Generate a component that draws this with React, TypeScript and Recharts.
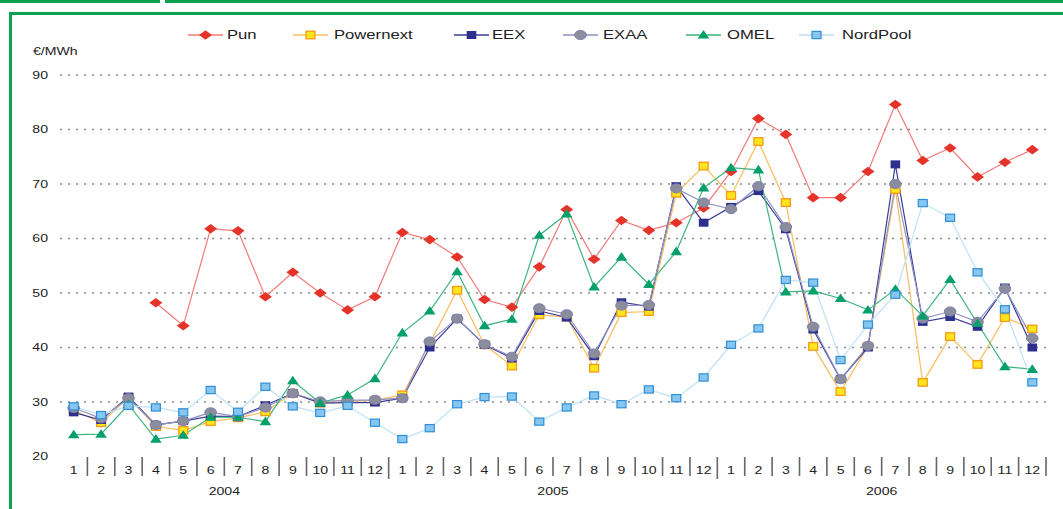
import React from 'react';
import { LineChart, Line, XAxis, YAxis, CartesianGrid } from 'recharts';

// monthly prices, Jan 2004 .. Dec 2006 (€/MWh)
const years = ['2004', '2005', '2006'];
const months = [1, 2, 3, 4, 5, 6, 7, 8, 9, 10, 11, 12];
const yTicks = [20, 30, 40, 50, 60, 70, 80, 90];
const gridValues = [30, 40, 50, 60, 70, 80, 90];

const pun = [
  null, null, null, 48.2, 44.0, 61.8, 61.4, 49.3, 53.8, 50.0, 46.9, 49.3,
  61.1, 59.8, 56.6, 48.8, 47.4, 54.8, 65.3, 56.2, 63.3, 61.5, 62.9, 65.6,
  72.3, 82.0, 79.1, 67.5, 67.5, 72.3, 84.6, 74.3, 76.6, 71.3, 74.0, 76.3,
];
const powernext = [
  28.5, 26.2, 30.8, 25.5, 24.8, 26.4, 27.1, 28.2, 31.6, 29.8, 30.1, 30.3,
  31.3, 40.8, 50.5, 40.5, 36.6, 46.0, 45.6, 36.2, 46.4, 46.6, 68.3, 73.3,
  67.9, 77.8, 66.6, 40.2, 31.9, 40.2, 69.0, 33.6, 42.0, 36.9, 45.5, 43.4,
];
const eex = [
  28.1, 26.7, 31.0, 25.8, 26.5, 27.4, 27.3, 29.4, 31.6, 29.8, 29.9, 29.9,
  30.7, 40.0, 45.3, 40.5, 38.0, 46.7, 45.5, 38.4, 48.3, 47.5, 69.6, 62.9,
  65.8, 68.7, 61.7, 43.3, 34.2, 40.0, 73.6, 44.7, 45.6, 43.8, 51.0, 40.0,
];
const exaa = [
  28.9, 27.0, 30.7, 25.8, 26.5, 28.1, 27.3, 29.0, 31.6, 30.1, 30.3, 30.4,
  30.7, 41.1, 45.3, 40.6, 38.3, 47.2, 46.1, 38.9, 47.7, 47.8, 69.2, 66.6,
  65.4, 69.6, 62.1, 43.8, 34.2, 40.3, 70.0, 45.3, 46.6, 44.7, 50.8, 41.7,
];
const omel = [
  24.0, 24.1, 29.5, 23.2, 23.9, 27.2, 27.2, 26.4, 33.9, 29.8, 31.3, 34.3,
  42.7, 46.7, 53.9, 44.0, 45.2, 60.6, 64.5, 51.1, 56.6, 51.6, 57.6, 69.3,
  73.0, 72.6, 50.2, 50.4, 49.0, 46.9, 50.7, 45.8, 52.5, 44.4, 36.5, 36.0,
];
const nordpool = [
  29.2, 27.6, 29.3, 29.0, 28.1, 32.2, 28.2, 32.8, 29.2, 28.0, 29.3, 26.2,
  23.2, 25.2, 29.6, 30.9, 31.0, 26.4, 29.0, 31.2, 29.6, 32.3, 30.7, 34.5,
  40.5, 43.5, 52.4, 51.9, 37.7, 44.2, 49.7, 66.5, 63.8, 53.8, 47.0, 33.6,
];

const data = pun.map((_, i) => ({
  i,
  Pun: pun[i],
  Powernext: powernext[i],
  EEX: eex[i],
  EXAA: exaa[i],
  OMEL: omel[i],
  NordPool: nordpool[i],
}));

const GREEN = '#0aa14f';
const PLOT_LEFT = 60;
const PLOT_RIGHT = 1046;
const PLOT_TOP = 75;
const PLOT_BOTTOM = 456.5;
const BAND = (PLOT_RIGHT - PLOT_LEFT) / 36;
const SX = 1.28; // the original artwork is stretched sideways

type MarkerKind = 'diamond' | 'square' | 'navy' | 'circle' | 'triangle' | 'light';

function Marker({ kind, cx, cy }: { kind: MarkerKind; cx: number; cy: number }) {
  switch (kind) {
    case 'diamond':
      return (
        <polygon
          points={`${cx},${cy - 4.8} ${cx + 6.5},${cy} ${cx},${cy + 4.8} ${cx - 6.5},${cy}`}
          fill="#e5332a"
        />
      );
    case 'square':
      return <rect x={cx - 4.5} y={cy - 3.8} width={9} height={7.6} fill="#ffe61c" stroke="#f59a16" strokeWidth={1.3} />;
    case 'navy':
      return <rect x={cx - 4.8} y={cy - 4} width={9.6} height={8} fill="#2d2f8e" />;
    case 'circle':
      return <ellipse cx={cx} cy={cy} rx={5.8} ry={4.6} fill="#8b8d9c" stroke="#7c80b4" strokeWidth={1} />;
    case 'triangle':
      return <polygon points={`${cx},${cy - 5} ${cx + 5.8},${cy + 3.6} ${cx - 5.8},${cy + 3.6}`} fill="#05a06a" />;
    default:
      return <rect x={cx - 4.5} y={cy - 3.6} width={9} height={7.2} fill="#86c6ef" stroke="#2f8ed6" strokeWidth={1.2} />;
  }
}

const series: { key: string; line: string; marker: MarkerKind; legendX: number; textX: number }[] = [
  { key: 'Pun', line: '#f27a78', marker: 'diamond', legendX: 188, textX: 227 },
  { key: 'Powernext', line: '#fbbd5c', marker: 'square', legendX: 293, textX: 334 },
  { key: 'EEX', line: '#3a3d97', marker: 'navy', legendX: 454, textX: 492 },
  { key: 'EXAA', line: '#8e91c2', marker: 'circle', legendX: 563, textX: 603 },
  { key: 'OMEL', line: '#3db77d', marker: 'triangle', legendX: 686, textX: 727 },
  { key: 'NordPool', line: '#bde2f7', marker: 'light', legendX: 799, textX: 842 },
];

function makeDot(kind: MarkerKind) {
  return (props: any) => {
    const { cx, cy, index } = props;
    if (cx == null || cy == null || props.value == null) return <g key={`d-${kind}-${index}`} />;
    return (
      <g key={`d-${kind}-${index}`}>
        <Marker kind={kind} cx={cx} cy={cy} />
      </g>
    );
  };
}

function MonthTick(props: any) {
  const { x, payload } = props;
  const i = Number(payload.value);
  const sepX = x + BAND / 2;
  const yearEnd = i % 12 === 11 && i < 35;
  return (
    <g>
      <text
        transform={`translate(${x},470) scale(${SX},1)`}
        textAnchor="middle"
        dy="0.35em"
        fontSize={11}
        fill="#222"
      >
        {months[i % 12]}
      </text>
      <line x1={sepX} x2={sepX} y1={457} y2={yearEnd ? 479 : 476} stroke="#666" strokeWidth={1.6} />
      {i % 12 === 5 && (
        <text
          transform={`translate(${sepX},491) scale(${SX},1)`}
          textAnchor="middle"
          dy="0.35em"
          fontSize={11}
          fill="#222"
        >
          {years[Math.floor(i / 12)]}
        </text>
      )}
    </g>
  );
}

function ValueTick(props: any) {
  const { y, payload } = props;
  return (
    <text
      transform={`translate(48,${y}) scale(${SX},1)`}
      textAnchor="end"
      dy="0.35em"
      fontSize={11}
      fill="#222"
    >
      {payload.value}
    </text>
  );
}

export default function App() {
  return (
    <div
      style={{
        position: 'absolute',
        left: 0,
        top: 0,
        width: 1063,
        height: 509,
        overflow: 'hidden',
        background: '#fff',
        fontFamily: '"Liberation Sans", Arial, sans-serif',
      }}
    >
      {/* page frame */}
      <div style={{ position: 'absolute', left: 0, top: 0, width: 160, height: 3, background: GREEN }} />
      <div style={{ position: 'absolute', left: 165, top: 0, width: 900, height: 3, background: GREEN }} />
      <div
        style={{
          position: 'absolute',
          left: 9,
          top: 12,
          width: 1100,
          height: 600,
          borderTop: `3px solid ${GREEN}`,
          borderLeft: `3px solid ${GREEN}`,
        }}
      />

      {/* legend */}
      {series.map((s) => (
        <div key={s.key}>
          <svg style={{ position: 'absolute', left: s.legendX, top: 27 }} width={36} height={16}>
            <line x1={0} x2={35} y1={8} y2={8} stroke={s.line} strokeWidth={1.6} />
            <Marker kind={s.marker} cx={17.5} cy={8} />
          </svg>
          <div
            style={{
              position: 'absolute',
              left: s.textX,
              top: 27,
              fontSize: 13,
              lineHeight: '16px',
              color: '#222',
              transform: `scaleX(${SX})`,
              transformOrigin: 'left center',
              whiteSpace: 'nowrap',
            }}
          >
            {s.key}
          </div>
        </div>
      ))}

      <div
        style={{
          position: 'absolute',
          left: 33,
          top: 44,
          fontSize: 11,
          lineHeight: '14px',
          color: '#222',
          transform: `scaleX(${SX})`,
          transformOrigin: 'left center',
        }}
      >
        €/MWh
      </div>

      <div style={{ position: 'absolute', left: 0, top: 0 }}>
        <LineChart
          width={1063}
          height={509}
          data={data}
          margin={{ top: PLOT_TOP, right: 1063 - PLOT_RIGHT, bottom: 0, left: 0 }}
        >
          <CartesianGrid
            vertical={false}
            horizontalValues={gridValues}
            stroke="#8a8a8a"
            strokeWidth={1.3}
            strokeDasharray="2 6"
          />
          <XAxis
            dataKey="i"
            type="category"
            interval={0}
            height={509 - PLOT_BOTTOM}
            padding={{ left: BAND / 2, right: BAND / 2 }}
            axisLine={false}
            tickLine={false}
            tick={<MonthTick />}
          />
          <YAxis
            type="number"
            domain={[20, 90]}
            ticks={yTicks}
            width={PLOT_LEFT}
            axisLine={false}
            tickLine={false}
            tick={<ValueTick />}
            allowDataOverflow
          />
          {series.map((s) => (
            <Line
              key={s.key}
              type="linear"
              dataKey={s.key}
              stroke={s.line}
              strokeWidth={1.2}
              dot={makeDot(s.marker)}
              activeDot={false}
              connectNulls={false}
              isAnimationActive={false}
            />
          ))}
        </LineChart>
      </div>
    </div>
  );
}
